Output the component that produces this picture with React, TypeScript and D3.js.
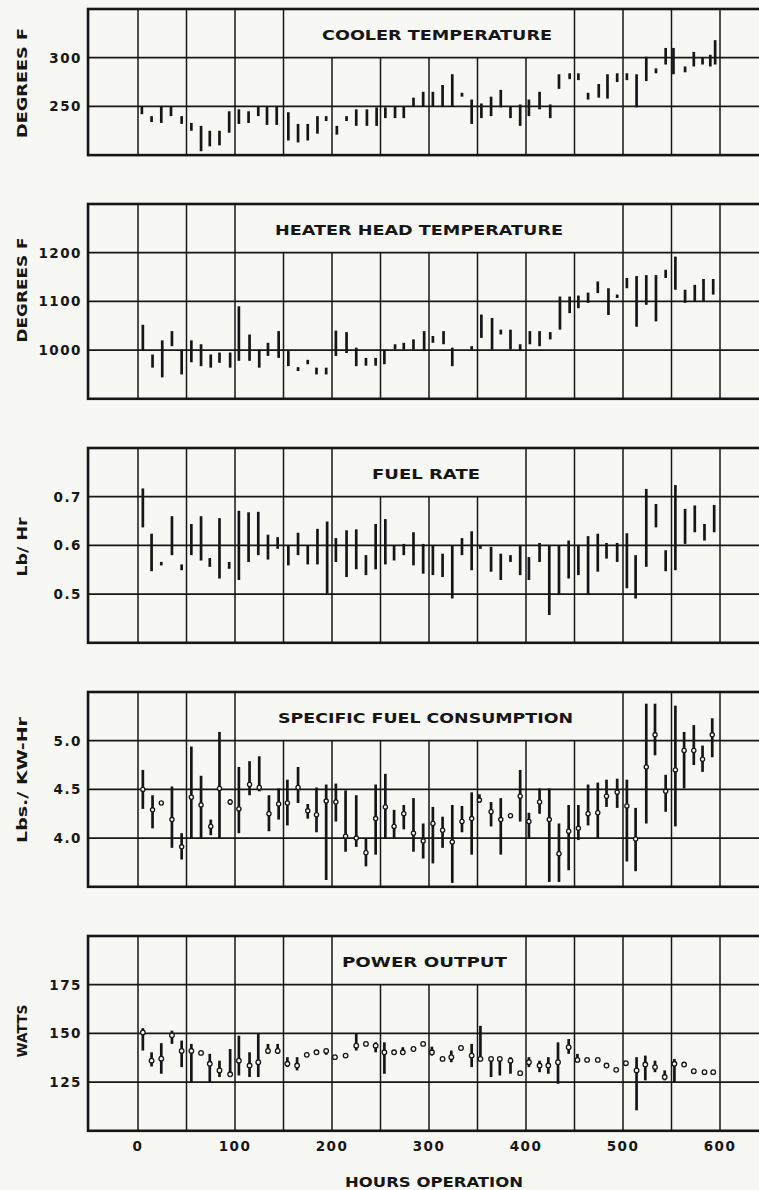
import { useEffect, useRef } from "react"
import * as d3 from "d3"

// [hour, low, high]  and  [hour, low, high, mid]
type Span = [number, number, number]
type SpanMid = [number, number, number, number]

const hourTicks = [0, 100, 200, 300, 400, 500, 600]

const coolerTicks = [250, 300]
const heaterTicks = [1000, 1100, 1200]
const fuelTicks = [0.5, 0.6, 0.7]
const sfcTicks = [4.0, 4.5, 5.0]
const powerTicks = [125, 150, 175]

const cooler: Span[] = [
  [4, 242, 250], [14, 234, 240], [24, 233, 250], [34, 240, 250], [45, 232, 240],
  [55, 225, 233], [65, 204, 230], [74, 209, 225], [84, 210, 225], [94, 223, 245],
  [104, 232, 247], [114, 233, 245], [124, 240, 250], [133, 231, 250], [143, 231, 250],
  [155, 215, 244], [165, 213, 232], [175, 215, 232], [185, 222, 240], [194, 235, 240],
  [205, 221, 230], [215, 235, 240], [225, 230, 247], [236, 230, 247], [246, 230, 249],
  [255, 238, 249], [265, 238, 250], [274, 238, 250], [284, 250, 259], [294, 250, 265],
  [304, 250, 265], [314, 250, 272], [324, 250, 283], [334, 260, 264], [344, 232, 257],
  [354, 238, 253], [364, 240, 260], [374, 249, 267], [384, 238, 250], [394, 230, 252],
  [403, 240, 257], [414, 247, 265], [425, 238, 252], [434, 268, 283], [445, 278, 284],
  [454, 277, 284], [464, 257, 264], [475, 259, 273], [484, 258, 283], [494, 275, 284],
  [504, 277, 284], [514, 249, 283], [524, 276, 301], [534, 284, 289], [544, 293, 310],
  [552, 283, 310], [564, 285, 291], [573, 291, 306], [582, 293, 300], [590, 291, 303],
  [595, 293, 318],
]

const heater: Span[] = [
  [5, 1000, 1052], [15, 964, 991], [25, 944, 1020], [35, 1008, 1039], [45, 950, 1001],
  [55, 975, 1020], [65, 967, 1012], [75, 964, 991], [84, 974, 995], [95, 964, 995],
  [104, 978, 1090], [115, 978, 1032], [125, 964, 1001], [134, 988, 1015], [145, 984, 1039],
  [155, 967, 998], [165, 957, 965], [175, 971, 980], [184, 950, 964], [194, 950, 964],
  [204, 988, 1040], [215, 994, 1037], [225, 967, 1005], [235, 968, 984], [245, 968, 984],
  [254, 971, 1001], [265, 1001, 1012], [274, 1001, 1015], [284, 1001, 1022], [295, 998, 1039],
  [304, 1015, 1029], [315, 1012, 1039], [324, 967, 1005], [344, 1001, 1008], [354, 1025, 1073],
  [365, 1001, 1066], [374, 1032, 1042], [384, 1001, 1042], [394, 998, 1012], [404, 1012, 1039],
  [414, 1008, 1039], [425, 1022, 1037], [435, 1042, 1110], [445, 1076, 1110], [454, 1086, 1112],
  [464, 1097, 1118], [474, 1117, 1141], [485, 1072, 1127], [494, 1107, 1114], [504, 1127, 1148],
  [514, 1048, 1152], [524, 1093, 1154], [534, 1059, 1154], [544, 1148, 1165], [554, 1124, 1192],
  [564, 1097, 1124], [574, 1100, 1134], [583, 1100, 1146], [593, 1114, 1146],
]

const fuel: Span[] = [
  [5, 0.637, 0.717], [14, 0.547, 0.624], [24, 0.559, 0.566], [35, 0.58, 0.66], [45, 0.549, 0.561],
  [55, 0.58, 0.644], [65, 0.569, 0.66], [74, 0.556, 0.574], [84, 0.532, 0.656], [94, 0.552, 0.566],
  [104, 0.529, 0.671], [114, 0.566, 0.668], [124, 0.58, 0.669], [134, 0.571, 0.622], [144, 0.593, 0.617],
  [155, 0.559, 0.6], [165, 0.58, 0.626], [175, 0.561, 0.6], [185, 0.561, 0.634], [195, 0.501, 0.649],
  [204, 0.566, 0.615], [215, 0.535, 0.631], [225, 0.551, 0.633], [235, 0.539, 0.58], [245, 0.551, 0.644],
  [255, 0.561, 0.654], [264, 0.569, 0.6], [274, 0.58, 0.603], [284, 0.559, 0.627], [294, 0.542, 0.603],
  [304, 0.539, 0.6], [314, 0.535, 0.583], [324, 0.491, 0.6], [334, 0.58, 0.615], [344, 0.549, 0.629],
  [353, 0.593, 0.6], [364, 0.546, 0.597], [374, 0.529, 0.583], [384, 0.566, 0.58], [394, 0.539, 0.601],
  [403, 0.529, 0.576], [414, 0.566, 0.605], [424, 0.457, 0.6], [434, 0.498, 0.6], [444, 0.532, 0.61],
  [454, 0.539, 0.601], [464, 0.498, 0.619], [474, 0.546, 0.624], [483, 0.573, 0.605], [494, 0.566, 0.605],
  [504, 0.512, 0.625], [513, 0.491, 0.58], [524, 0.556, 0.716], [534, 0.637, 0.685], [544, 0.547, 0.59],
  [554, 0.549, 0.724], [564, 0.603, 0.675], [574, 0.627, 0.682], [584, 0.61, 0.644], [594, 0.627, 0.683],
]

const sfc: SpanMid[] = [
  [5, 4.3, 4.7, 4.5], [15, 4.1, 4.44, 4.29], [24, 4.36, 4.36, 4.36], [35, 3.9, 4.53, 4.19],
  [45, 3.78, 4.05, 3.91], [55, 4.0, 4.94, 4.42], [65, 4.0, 4.64, 4.34], [75, 4.03, 4.19, 4.12],
  [84, 4.0, 5.09, 4.51], [95, 4.34, 4.4, 4.37], [104, 4.05, 4.73, 4.3], [115, 4.44, 4.79, 4.55],
  [125, 4.48, 4.84, 4.52], [135, 4.07, 4.44, 4.25], [145, 4.19, 4.51, 4.35], [154, 4.13, 4.6, 4.36],
  [165, 4.36, 4.73, 4.52], [175, 4.2, 4.35, 4.28], [184, 4.06, 4.52, 4.24], [194, 3.57, 4.55, 4.38],
  [204, 4.17, 4.56, 4.37], [214, 3.86, 4.49, 4.02], [225, 3.91, 4.44, 4.0], [235, 3.71, 4.0, 3.85],
  [245, 3.83, 4.55, 4.2], [255, 4.0, 4.66, 4.32], [264, 4.0, 4.29, 4.12], [274, 4.09, 4.34, 4.25],
  [284, 3.86, 4.41, 4.05], [294, 3.79, 4.15, 3.97], [304, 3.74, 4.32, 4.15], [314, 3.9, 4.22, 4.08],
  [324, 3.54, 4.34, 3.96], [334, 4.06, 4.33, 4.17], [344, 3.83, 4.47, 4.2], [352, 4.36, 4.45, 4.39],
  [364, 4.12, 4.37, 4.27], [374, 3.83, 4.41, 4.19], [384, 4.23, 4.23, 4.23], [394, 4.17, 4.7, 4.43],
  [403, 4.0, 4.26, 4.17], [414, 4.25, 4.51, 4.37], [424, 3.55, 4.51, 4.19], [434, 3.55, 4.15, 3.84],
  [444, 3.67, 4.34, 4.07], [454, 3.98, 4.34, 4.1], [464, 4.13, 4.55, 4.25], [474, 4.0, 4.57, 4.26],
  [483, 4.32, 4.6, 4.43], [494, 4.31, 4.61, 4.47], [504, 3.76, 4.6, 4.33], [513, 3.66, 4.31, 3.99],
  [524, 4.15, 5.38, 4.73], [533, 4.85, 5.38, 5.06], [544, 4.27, 4.65, 4.48], [554, 4.12, 5.36, 4.7],
  [563, 4.51, 5.09, 4.9], [573, 4.75, 5.16, 4.9], [582, 4.68, 4.95, 4.81], [592, 4.83, 5.23, 5.06],
]

const power: SpanMid[] = [
  [5, 141.2, 152.7, 150.5], [14, 133, 140.3, 136], [24, 129.3, 145, 137], [35, 144.6, 151.4, 149],
  [45, 132.7, 146.3, 141], [55, 125, 144.6, 141], [65, 140, 140, 140], [74, 125, 139.5, 134.4],
  [84, 127.6, 136, 131], [95, 127.6, 142, 129], [104, 128.4, 148.8, 136], [115, 127.6, 140.3, 133.5],
  [124, 127.6, 150, 135.2], [134, 139.5, 144.6, 141], [144, 139.5, 144.6, 141], [154, 132.7, 137.8, 134.4],
  [164, 131, 137.8, 133.5], [174, 139, 139, 139], [184, 140.3, 140.3, 140.3], [194, 139, 142, 141],
  [203, 137.8, 137.8, 137.8], [214, 138.6, 138.6, 138.6], [225, 141.2, 149.7, 143.7], [235, 144.6, 144.6, 144.6],
  [245, 140.3, 145.4, 143.7], [254, 129.3, 145.4, 140.3], [264, 140.3, 140.3, 140.3], [273, 139.5, 142.9, 140.3],
  [284, 142, 142, 142], [294, 144.6, 144.6, 144.6], [303, 138.6, 143.2, 140.3], [314, 136.9, 136.9, 136.9],
  [323, 135.2, 141.2, 137.8], [333, 142.5, 142.5, 142.5], [344, 132.7, 144.6, 138.6], [353, 136.9, 153.9, 136.9],
  [364, 127.6, 137.8, 136.9], [373, 128.4, 137.8, 136.9], [384, 129.3, 137.8, 136], [394, 129.6, 129.6, 129.6],
  [403, 132.7, 137.8, 135.2], [414, 130.1, 136, 133.5], [423, 129.3, 137.8, 133.5], [433, 124.1, 145.4, 135.2],
  [444, 139.5, 147.1, 142.9], [453, 135.2, 139.5, 136.4], [463, 136.4, 136.4, 136.4], [474, 136.4, 136.4, 136.4],
  [483, 132.7, 134.7, 133.5], [493, 131.3, 131.3, 131.3], [503, 134.7, 134.7, 134.7], [514, 110.5, 137.8, 131],
  [523, 125.9, 138.6, 134], [533, 130.1, 136, 132.7], [543, 125.9, 131, 127.6], [553, 125, 136.9, 134.4],
  [563, 134, 134, 134], [573, 130.6, 130.6, 130.6], [584, 130.1, 130.1, 130.1], [593, 130.1, 130.1, 130.1],
]

interface Panel {
  title: string
  yLabel: string
  domain: [number, number]
  step: number
  ticks: number[]
  fmt: (v: number) => string
  data: (Span | SpanMid)[]
  markers: boolean
  top: number
  titleX: number
  titleLen: number
  labelY: number
  labelLen: number
  gap: [number, number] // hours where top-band grid is left out for the title
}

const int = d3.format("d")
const dec = d3.format(".1f")

const panels: Panel[] = [
  { title: "COOLER TEMPERATURE", yLabel: "DEGREES F", domain: [200, 350], step: 50, ticks: coolerTicks, fmt: int,
    data: cooler, markers: false, top: 9, titleX: 322, titleLen: 230, labelY: 83, labelLen: 110, gap: [200, 400] },
  { title: "HEATER HEAD TEMPERATURE", yLabel: "DEGREES F", domain: [900, 1300], step: 100, ticks: heaterTicks, fmt: int,
    data: heater, markers: false, top: 204, titleX: 275, titleLen: 288, labelY: 290, labelLen: 105, gap: [150, 450] },
  { title: "FUEL RATE", yLabel: "Lb/ Hr", domain: [0.4, 0.8], step: 0.1, ticks: fuelTicks, fmt: dec,
    data: fuel, markers: false, top: 448, titleX: 372, titleLen: 108, labelY: 547, labelLen: 59, gap: [250, 350] },
  { title: "SPECIFIC FUEL CONSUMPTION", yLabel: "Lbs./ KW-Hr", domain: [3.5, 5.5], step: 0.5, ticks: sfcTicks, fmt: dec,
    data: sfc, markers: true, top: 692, titleX: 278, titleLen: 295, labelY: 780, labelLen: 126, gap: [150, 450] },
  { title: "POWER OUTPUT", yLabel: "WATTS", domain: [100, 200], step: 25, ticks: powerTicks, fmt: int,
    data: power, markers: true, top: 936, titleX: 342, titleLen: 165, labelY: 1031, labelLen: 53, gap: [250, 350] },
]

export default function App() {
  const svgRef = useRef<SVGSVGElement>(null)

  useEffect(() => {
    if (!svgRef.current) return
    const W = 759
    const H = 1190
    const ink = "#161616"
    const paper = "#f7f7f4"
    const font = "'DejaVu Sans', sans-serif"

    const svg = d3.select(svgRef.current)
    svg.selectAll("*").remove()
    svg.append("rect").attr("width", W).attr("height", H).attr("fill", paper)

    const x = d3.scaleLinear().domain([0, 600]).range([138, 720])
    const xLeft = x(-51.5)
    const xRight = W + 10
    const band = 48.7
    const gridHours = d3.range(0, 651, 50)

    panels.forEach((p) => {
      const nBands = Math.round((p.domain[1] - p.domain[0]) / p.step)
      const h = nBands * band
      const y = d3.scaleLinear().domain(p.domain).range([p.top + h, p.top])
      const g = svg.append("g")
      const topGrid = y(d3.max(p.ticks) as number)

      // vertical grid
      g.selectAll(".v")
        .data(gridHours)
        .join("line")
        .attr("x1", (d) => x(d))
        .attr("x2", (d) => x(d))
        .attr("y1", (d) => (d >= p.gap[0] && d <= p.gap[1] ? topGrid : p.top))
        .attr("y2", p.top + h)
        .attr("stroke", ink)
        .attr("stroke-width", 1.5)

      // horizontal grid
      g.selectAll(".h")
        .data(p.ticks)
        .join("line")
        .attr("x1", xLeft)
        .attr("x2", xRight)
        .attr("y1", (d) => y(d))
        .attr("y2", (d) => y(d))
        .attr("stroke", ink)
        .attr("stroke-width", 1.7)

      // frame
      g.append("rect")
        .attr("x", xLeft)
        .attr("y", p.top)
        .attr("width", xRight - xLeft)
        .attr("height", h)
        .attr("fill", "none")
        .attr("stroke", ink)
        .attr("stroke-width", 2.6)

      // range bars
      g.selectAll(".bar")
        .data(p.data.filter((d) => d[2] > d[1] || !p.markers))
        .join("line")
        .attr("x1", (d) => x(d[0]))
        .attr("x2", (d) => x(d[0]))
        .attr("y1", (d) => {
          const a = y(d[1]), b = y(d[2])
          return a - b < 3.5 ? (a + b) / 2 + 1.75 : a
        })
        .attr("y2", (d) => {
          const a = y(d[1]), b = y(d[2])
          return a - b < 3.5 ? (a + b) / 2 - 1.75 : b
        })
        .attr("stroke", ink)
        .attr("stroke-width", 2.7)

      if (p.markers) {
        g.selectAll(".mk")
          .data(p.data as SpanMid[])
          .join("circle")
          .attr("cx", (d) => x(d[0]))
          .attr("cy", (d) => y(d[3]))
          .attr("r", p.step === 25 ? 2.3 : 2.1)
          .attr("fill", paper)
          .attr("stroke", ink)
          .attr("stroke-width", 1.3)
      }

      // y tick labels
      g.selectAll(".yt")
        .data(p.ticks)
        .join("text")
        .attr("x", 82)
        .attr("y", (d) => y(d))
        .attr("dy", "0.36em")
        .attr("text-anchor", "end")
        .attr("font-family", font)
        .attr("font-weight", "bold")
        .attr("font-size", 13.5)
        .attr("letter-spacing", 1.5)
        .attr("fill", ink)
        .text((d) => p.fmt(d))

      // title
      g.append("text")
        .attr("x", p.titleX)
        .attr("y", p.top + 31)
        .attr("font-family", font)
        .attr("font-weight", "bold")
        .attr("font-size", 14)
        .attr("textLength", p.titleLen)
        .attr("lengthAdjust", "spacingAndGlyphs")
        .attr("fill", ink)
        .text(p.title)

      // y axis label
      g.append("text")
        .attr("transform", `translate(27, ${p.labelY}) rotate(-90)`)
        .attr("text-anchor", "middle")
        .attr("font-family", font)
        .attr("font-weight", "bold")
        .attr("font-size", 14)
        .attr("textLength", p.labelLen)
        .attr("lengthAdjust", "spacingAndGlyphs")
        .attr("fill", ink)
        .text(p.yLabel)
    })

    // x tick labels
    svg
      .append("g")
      .selectAll("text")
      .data(hourTicks)
      .join("text")
      .attr("x", (d) => x(d))
      .attr("y", 1151)
      .attr("text-anchor", "middle")
      .attr("font-family", font)
      .attr("font-weight", "bold")
      .attr("font-size", 13.5)
      .attr("letter-spacing", 1.5)
      .attr("fill", ink)
      .text((d) => d)

    svg
      .append("text")
      .attr("x", 345)
      .attr("y", 1187)
      .attr("font-family", font)
      .attr("font-weight", "bold")
      .attr("font-size", 14)
      .attr("textLength", 178)
      .attr("lengthAdjust", "spacingAndGlyphs")
      .attr("fill", ink)
      .text("HOURS OPERATION")
  }, [])

  return (
    <svg
      ref={svgRef}
      width={759}
      height={1190}
      style={{ position: "absolute", left: 0, top: 0 }}
    ></svg>
  )
}
